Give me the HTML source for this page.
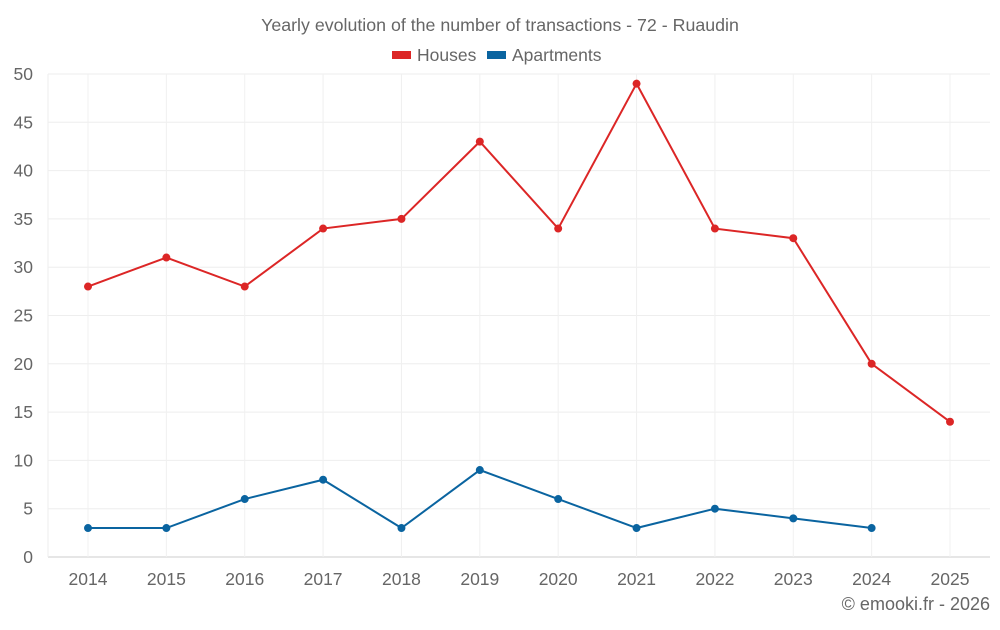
<!DOCTYPE html>
<html><head><meta charset="utf-8"><style>
body{margin:0;background:#fff;font-family:"Liberation Sans",sans-serif;}
svg text{font-family:"Liberation Sans",sans-serif;fill:#666;}
</style></head><body>
<svg id="c" width="1000" height="625">
<text x="500" y="31" text-anchor="middle" font-size="17.8">Yearly evolution of the number of transactions - 72 - Ruaudin</text>
<g>
<rect x="392" y="51" width="19" height="8" fill="#dc2626"/>
<text x="417" y="61" font-size="17.5">Houses</text>
<rect x="487" y="51" width="19" height="8" fill="#0a64a0"/>
<text x="512" y="61" font-size="17.5">Apartments</text>
</g>
<g id="grid"></g><g id="axes"></g><g id="series"></g>
<text x="990" y="610" text-anchor="end" font-size="18">© emooki.fr - 2026</text>
</svg>
<script>
const years=[2014,2015,2016,2017,2018,2019,2020,2021,2022,2023,2024,2025];
const houses=[28,31,28,34,35,43,34,49,34,33,20,14];
const apartments=[3,3,6,8,3,9,6,3,5,4,3,null];
const yTicks=[0,5,10,15,20,25,30,35,40,45,50];
const NS="http://www.w3.org/2000/svg";
const x=i=>88+i*(950-88)/11;
const y=v=>557-v*(557-74)/50;
function mk(t,a,p){const e=document.createElementNS(NS,t);for(const k in a)e.setAttribute(k,a[k]);p.appendChild(e);return e;}
const g=document.getElementById('grid'),ax=document.getElementById('axes'),s=document.getElementById('series');
yTicks.forEach(v=>{
 const l=mk('line',{x1:48,x2:990,y1:y(v),y2:y(v),stroke:v===0?'#ccc':'#eee'},g);
 
 
 const t=mk('text',{x:33,y:y(v)+6,'text-anchor':'end','font-size':17.5},ax);t.textContent=v;
 
 
});
years.forEach((yr,i)=>{
 const l=mk('line',{x1:x(i),x2:x(i),y1:74,y2:557,stroke:'#f0f0f0'},g);
 
 
 const t=mk('text',{x:x(i),y:585,'text-anchor':'middle','font-size':17.5},ax);t.textContent=yr;
 
 
});
const l0=mk('line',{x1:48,x2:48,y1:74,y2:557,stroke:'#eee'},g);
function series(data,color,name){
 let d='';data.forEach((v,i)=>{if(v!=null)d+=(d?'L':'M')+x(i)+','+y(v);});
 const p=mk('path',{d:d,fill:'none',stroke:color,'stroke-width':2},s);
 
 
 data.forEach((v,i)=>{if(v==null)return;
  const c=mk('circle',{cx:x(i),cy:y(v),r:4,fill:color},s);
  
  
 });
}
series(houses,'#dc2626','houses');
series(apartments,'#0a64a0','apartments');
</script>
</body></html>
